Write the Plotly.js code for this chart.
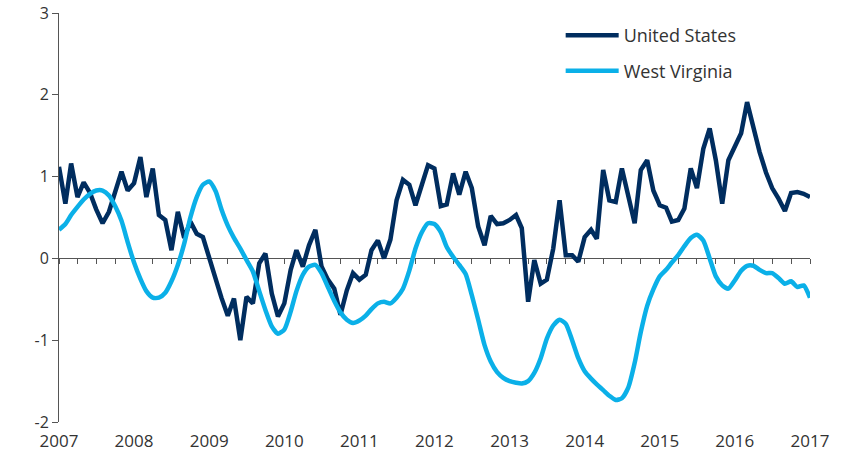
<!DOCTYPE html>
<html>
<head>
<meta charset="utf-8">
<script src="https://cdn.plot.ly/plotly-3.0.1.min.js"></script>
<style>html,body{margin:0;padding:0;background:#fff;}#chart{width:851px;height:459px;}</style>
</head>
<body>
<div id="chart"></div>
<script>
var startYear = 2007;
var seriesNames = ["United States", "West Virginia"];
var unitedStates = [
  1.12, 0.67, 1.16, 0.75, 0.93, 0.80, 0.60, 0.43, 0.57, 0.83, 1.06, 0.83, 0.92,
  1.24, 0.75, 1.10, 0.53, 0.47, 0.10, 0.57, 0.25, 0.45, 0.30, 0.26, -0.02,
  -0.25, -0.48, -0.70, -0.49, -1.00, -0.47, -0.55, -0.06, 0.06, -0.43, -0.71, -0.55,
  -0.14, 0.10, -0.10, 0.16, 0.35, -0.10, -0.26, -0.37, -0.69, -0.39, -0.18, -0.26,
  -0.20, 0.10, 0.22, 0.00, 0.23, 0.71, 0.96, 0.90, 0.65, 0.90, 1.14, 1.10,
  0.64, 0.66, 1.04, 0.78, 1.06, 0.86, 0.39, 0.16, 0.52, 0.42, 0.43, 0.47,
  0.53, 0.37, -0.53, -0.02, -0.31, -0.26, 0.12, 0.71, 0.04, 0.04, -0.04, 0.26,
  0.35, 0.24, 1.08, 0.71, 0.69, 1.10, 0.75, 0.43, 1.08, 1.20, 0.83, 0.65,
  0.62, 0.45, 0.47, 0.61, 1.10, 0.86, 1.34, 1.59, 1.20, 0.67, 1.20, 1.38,
  1.53, 1.91, 1.60, 1.30, 1.05, 0.86, 0.73, 0.58, 0.80, 0.81, 0.79, 0.75
];
var westVirginia = [
  0.35, 0.42, 0.53, 0.63, 0.72, 0.79, 0.83, 0.83, 0.77, 0.64, 0.46, 0.20, -0.05,
  -0.25, -0.40, -0.48, -0.48, -0.42, -0.28, -0.08, 0.18, 0.50, 0.75, 0.90, 0.94,
  0.82, 0.60, 0.40, 0.25, 0.12, -0.02, -0.16, -0.40, -0.63, -0.83, -0.92, -0.87,
  -0.65, -0.40, -0.20, -0.10, -0.08, -0.18, -0.35, -0.52, -0.66, -0.75, -0.79, -0.76,
  -0.70, -0.62, -0.55, -0.53, -0.55, -0.48, -0.37, -0.15, 0.12, 0.32, 0.43, 0.42,
  0.32, 0.14, 0.02, -0.08, -0.19, -0.45, -0.75, -1.06, -1.26, -1.39, -1.46, -1.50,
  -1.52, -1.53, -1.50, -1.40, -1.22, -0.98, -0.82, -0.75, -0.80, -1.00, -1.22, -1.38,
  -1.47, -1.54, -1.61, -1.68, -1.73, -1.71, -1.58, -1.28, -0.90, -0.58, -0.38, -0.22,
  -0.14, -0.05, 0.04, 0.15, 0.25, 0.29, 0.22, 0.00, -0.22, -0.33, -0.37, -0.27,
  -0.15, -0.09, -0.09, -0.14, -0.18, -0.18, -0.24, -0.31, -0.28, -0.35, -0.33, -0.48
];
var yTicks = [-2, -1, 0, 1, 2, 3];
var yTickText = ["-2", "-1", "0", "1", "2", "3"];

var dates = [];
for (var i = 0; i < unitedStates.length; i++) {
  var y = startYear + Math.floor(i / 12), m = (i % 12) + 1;
  dates.push(y + "-" + (m < 10 ? "0" + m : m) + "-01");
}
var xRange = [dates[0], dates[dates.length - 1]];

var FONT = "Open Sans, sans-serif";
var traces = [
  {x: dates, y: unitedStates, name: seriesNames[0], type: "scatter", mode: "lines",
   xaxis: "x", yaxis: "y", legendgroup: "a",
   line: {color: "#002d5f", width: 4.5}},
  {x: dates, y: westVirginia, name: seriesNames[1], type: "scatter", mode: "lines",
   xaxis: "x2", yaxis: "y", legendgroup: "b",
   line: {color: "#0bb0e8", width: 4.5, shape: "spline", smoothing: 0.6}}
];

var layout = {
  width: 851, height: 459,
  margin: {l: 59, r: 41, t: 13, b: 37},
  paper_bgcolor: "#fff", plot_bgcolor: "#fff",
  font: {family: FONT, size: 17, color: "#333"},
  showlegend: true,
  legend: {x: 0.668, y: 0.99, xanchor: "left", yanchor: "top",
           traceorder: "grouped", tracegroupgap: 9, itemwidth: 53,
           font: {family: FONT, size: 18, color: "#333"}, bgcolor: "rgba(0,0,0,0)"},
  xaxis: {type: "date", range: xRange, showgrid: false, zeroline: false,
          showline: false, ticks: "", dtick: "M12", tick0: dates[0], tickformat: "%Y",
          ticklabelstandoff: 7,
          tickfont: {family: FONT, size: 17, color: "#333"}},
  xaxis2: {type: "date", range: xRange, overlaying: "x", anchor: "free", position: 0.4,
           side: "bottom", showgrid: false, zeroline: false, showline: true,
           linecolor: "#555", linewidth: 1, ticks: "outside", ticklen: 5, tickwidth: 1,
           tickcolor: "#555", dtick: "M3", tick0: dates[0], showticklabels: false,
           layer: "below traces"},
  yaxis: {range: [-2, 3], tickvals: yTicks, ticktext: yTickText, showgrid: false, zeroline: false,
          showline: true, linecolor: "#555", linewidth: 1, ticks: "outside",
          ticklen: 6, tickwidth: 1, tickcolor: "#555",
          tickfont: {family: FONT, size: 16, color: "#333"}, layer: "below traces"}
};

Plotly.newPlot("chart", traces, layout, {staticPlot: true, displayModeBar: false});
</script>
</body>
</html>
